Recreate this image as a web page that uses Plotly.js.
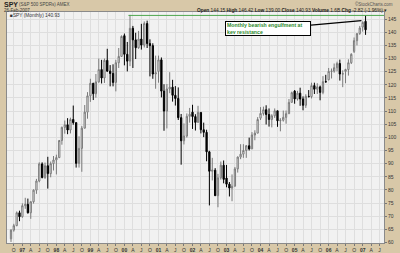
<!DOCTYPE html>
<html>
<head>
<meta charset="utf-8">
<script src="https://cdn.plot.ly/plotly-3.0.1.min.js"></script>
<style>html,body{margin:0;padding:0;background:#d8c8a8;}#chart{width:400px;height:253px;}</style>
</head>
<body>
<div id="chart"></div>
<script>
// Monthly bars, Sep 1996 – Feb 2007
const dates = [
 "1996-09-01","1996-10-01","1996-11-01","1996-12-01",
 "1997-01-01","1997-02-01","1997-03-01","1997-04-01","1997-05-01","1997-06-01","1997-07-01","1997-08-01","1997-09-01","1997-10-01","1997-11-01","1997-12-01",
 "1998-01-01","1998-02-01","1998-03-01","1998-04-01","1998-05-01","1998-06-01","1998-07-01","1998-08-01","1998-09-01","1998-10-01","1998-11-01","1998-12-01",
 "1999-01-01","1999-02-01","1999-03-01","1999-04-01","1999-05-01","1999-06-01","1999-07-01","1999-08-01","1999-09-01","1999-10-01","1999-11-01","1999-12-01",
 "2000-01-01","2000-02-01","2000-03-01","2000-04-01","2000-05-01","2000-06-01","2000-07-01","2000-08-01","2000-09-01","2000-10-01","2000-11-01","2000-12-01",
 "2001-01-01","2001-02-01","2001-03-01","2001-04-01","2001-05-01","2001-06-01","2001-07-01","2001-08-01","2001-09-01","2001-10-01","2001-11-01","2001-12-01",
 "2002-01-01","2002-02-01","2002-03-01","2002-04-01","2002-05-01","2002-06-01","2002-07-01","2002-08-01","2002-09-01","2002-10-01","2002-11-01","2002-12-01",
 "2003-01-01","2003-02-01","2003-03-01","2003-04-01","2003-05-01","2003-06-01","2003-07-01","2003-08-01","2003-09-01","2003-10-01","2003-11-01","2003-12-01",
 "2004-01-01","2004-02-01","2004-03-01","2004-04-01","2004-05-01","2004-06-01","2004-07-01","2004-08-01","2004-09-01","2004-10-01","2004-11-01","2004-12-01",
 "2005-01-01","2005-02-01","2005-03-01","2005-04-01","2005-05-01","2005-06-01","2005-07-01","2005-08-01","2005-09-01","2005-10-01","2005-11-01","2005-12-01",
 "2006-01-01","2006-02-01","2006-03-01","2006-04-01","2006-05-01","2006-06-01","2006-07-01","2006-08-01","2006-09-01","2006-10-01","2006-11-01","2006-12-01",
 "2007-01-01","2007-02-01"
];
const open = [
 61.4,64.7,66.4,71.3,
 69.8,74.0,74.5,71.3,75.5,79.9,83.4,89.9,84.7,89.2,86.2,90.0,
 91.4,92.3,98.8,103.8,104.8,102.8,106.8,105.6,90.1,95.8,103.5,109.6,
 115.8,120.6,116.6,121.1,125.8,122.6,129.3,125.2,124.3,120.9,128.4,130.8,
 138.7,131.6,129.0,141.5,137.1,134.1,137.4,135.1,143.3,135.7,134.9,124.1,
 125.1,129.5,117.6,110.0,118.4,119.1,116.0,114.8,107.5,98.7,100.5,108.0,
 109.6,107.9,105.7,109.5,102.9,101.9,94.5,87.1,87.5,77.8,84.6,89.4,
 84.5,82.2,80.7,81.4,88.0,92.5,93.6,95.0,96.8,95.6,100.9,101.6,
 107.3,109.1,110.5,108.7,106.8,108.2,110.1,106.3,106.5,107.6,109.0,113.3,
 117.6,114.6,116.8,114.6,112.2,115.6,115.5,119.7,118.3,119.2,117.1,121.2,
 121.9,125.1,125.2,126.5,128.1,124.1,125.1,125.8,128.4,132.7,136.8,139.5,
 141.96,144.15
];
const high = [
 65.0,67.1,71.8,72.1,
 74.9,77.0,76.7,75.7,80.2,84.2,90.5,90.5,90.4,92.6,90.8,92.9,
 93.4,99.0,104.1,106.4,107.3,107.5,112.1,105.7,100.4,104.3,112.3,117.2,
 122.3,120.7,124.1,130.0,129.5,130.0,133.7,127.5,127.8,129.5,134.0,138.8,
 139.5,136.3,146.6,142.4,139.8,140.5,143.2,144.1,144.4,137.3,135.8,131.1,
 131.1,130.4,120.2,120.3,124.8,121.9,119.5,119.0,108.9,105.3,109.1,111.2,
 112.4,108.8,112.0,109.5,105.6,102.9,94.9,92.2,88.3,86.1,90.8,91.2,
 89.5,83.0,85.9,88.7,92.7,97.4,97.4,97.1,99.9,102.0,102.7,107.7,
 111.5,111.7,112.2,111.0,108.8,111.0,110.1,107.3,110.2,110.2,114.6,117.4,
 118.0,117.7,118.9,115.6,116.4,118.0,120.8,120.8,120.6,119.7,123.3,123.8,
 126.4,126.2,128.1,128.8,129.6,125.5,126.1,129.7,132.0,138.0,139.6,142.4,
 144.13,146.42
];
const low = [
 60.2,64.1,66.2,68.1,
 69.4,72.8,71.0,69.0,74.8,78.5,82.9,84.4,84.2,80.5,84.8,87.4,
 85.9,92.1,97.2,101.4,101.2,101.5,104.8,88.5,88.5,86.9,103.4,107.1,
 113.5,114.2,115.1,120.8,120.5,120.7,124.9,119.4,119.4,117.5,126.4,130.6,
 127.4,125.1,127.1,126.4,129.8,133.7,133.4,134.2,134.0,123.2,122.3,118.5,
 120.8,115.2,102.5,103.4,116.8,113.6,112.1,106.6,89.6,97.3,99.9,105.6,
 103.2,102.6,105.6,101.5,100.1,90.9,74.1,83.6,77.8,73.4,83.9,82.5,
 81.0,77.5,75.7,81.3,86.6,91.7,92.2,92.2,95.0,95.6,98.9,101.6,
 106.6,108.3,104.9,104.1,103.8,107.4,104.0,102.3,106.0,105.2,109.0,113.3,
 112.8,114.0,112.0,110.3,111.2,115.2,114.8,116.5,116.5,114.1,116.4,120.9,
 121.7,122.4,124.6,125.1,121.6,119.1,120.6,123.5,127.9,132.1,135.0,139.0,
 140.25,139.00
];
const close = [
 64.7,66.4,71.3,69.8,
 74.0,74.5,71.3,75.5,79.9,83.4,89.9,84.7,89.2,86.2,90.0,91.4,
 92.3,98.8,103.8,104.8,102.8,106.8,105.6,90.1,95.8,103.5,109.6,115.8,
 120.6,116.6,121.1,125.8,122.6,129.3,125.2,124.3,120.9,128.4,130.8,138.4,
 131.6,129.0,141.5,137.1,134.1,137.4,135.1,143.3,135.7,134.9,124.1,124.6,
 129.5,117.6,110.0,118.4,119.1,116.0,114.8,107.5,98.7,100.5,108.0,108.8,
 107.9,105.7,109.5,102.9,101.9,94.5,87.1,87.5,77.8,84.6,89.4,84.0,
 82.2,80.7,81.4,88.0,92.5,93.6,95.0,96.8,95.6,100.9,101.6,106.8,
 109.1,110.5,108.7,106.8,108.2,110.1,106.3,106.5,107.6,109.0,113.3,117.0,
 114.6,116.8,114.6,112.2,115.6,115.5,119.7,118.3,119.2,117.1,121.2,121.1,
 125.1,125.2,126.5,128.1,124.1,124.2,125.8,128.4,131.6,136.8,139.5,141.6,
 143.75,140.93
];
const tickDates = [
 "1996-10-01","1997-01-01","1997-04-01","1997-07-01","1997-10-01","1998-01-01","1998-04-01","1998-07-01","1998-10-01",
 "1999-01-01","1999-04-01","1999-07-01","1999-10-01","2000-01-01","2000-04-01","2000-07-01","2000-10-01",
 "2001-01-01","2001-04-01","2001-07-01","2001-10-01","2002-01-01","2002-04-01","2002-07-01","2002-10-01",
 "2003-01-01","2003-04-01","2003-07-01","2003-10-01","2004-01-01","2004-04-01","2004-07-01","2004-10-01",
 "2005-01-01","2005-04-01","2005-07-01","2005-10-01","2006-01-01","2006-04-01","2006-07-01","2006-10-01",
 "2007-01-01","2007-04-01","2007-07-01"
];
const tickLabels = [
 "O","<b>97</b>","A","J","O","<b>98</b>","A","J","O",
 "<b>99</b>","A","J","O","<b>00</b>","A","J","O",
 "<b>01</b>","A","J","O","<b>02</b>","A","J","O",
 "<b>03</b>","A","J","O","<b>04</b>","A","J","O",
 "<b>05</b>","A","J","O","<b>06</b>","A","J","O",
 "<b>07</b>","A","J"
];
const resistanceLevel = 146.4;
const resistanceStart = "2000-02-13";
const noteText = "Monthly bearish engulfment at<br>key resistance";

const FONT = "Liberation Sans, Arial, sans-serif";

const trace = {
  type: "candlestick",
  x: dates, open: open, high: high, low: low, close: close,
  increasing: {line: {color: "#7a7a7a", width: 1}, fillcolor: "#ffffff"},
  decreasing: {line: {color: "#000000", width: 1}, fillcolor: "#000000"},
  whiskerwidth: 0,
  hoverinfo: "skip",
  showlegend: false
};

const px = (p) => (p - 7) / 377;
const py = (p) => (243 - p) / 231;

const layout = {
  width: 400, height: 253,
  margin: {l: 7, r: 16, t: 12, b: 10, pad: 0},
  paper_bgcolor: "#d8c8a8",
  plot_bgcolor: "#f1f1f1",
  font: {family: FONT, size: 5, color: "#333"},
  showlegend: false,
  xaxis: {
    type: "date",
    range: ["1996-07-20", "2007-08-18"],
    tickmode: "array", tickvals: tickDates, ticktext: tickLabels,
    showgrid: true, gridcolor: "#dedede", gridwidth: 1,
    ticks: "outside", ticklen: 2, tickcolor: "#777",
    tickfont: {size: 5, color: "#333", family: FONT},
    showline: true, linecolor: "#8a8a8a", linewidth: 1, mirror: true,
    rangeslider: {visible: false},
    zeroline: false, fixedrange: true
  },
  yaxis: {
    side: "right",
    range: [59.8, 147.7],
    tick0: 0, dtick: 5,
    showgrid: true, gridcolor: "#dedede", gridwidth: 1,
    ticks: "outside", ticklen: 2, tickcolor: "#777",
    tickfont: {size: 5, color: "#333", family: FONT},
    showline: true, linecolor: "#8a8a8a", linewidth: 1, mirror: true,
    zeroline: false, fixedrange: true
  },
  shapes: [{
    type: "line", xref: "x", yref: "y",
    x0: resistanceStart, x1: "2007-08-18", y0: resistanceLevel, y1: resistanceLevel,
    line: {color: "#4ea64e", width: 1}
  }],
  annotations: [
    {xref: "paper", yref: "paper", x: px(2), y: py(4.5), xanchor: "left", yanchor: "middle",
     text: "<b>SPY</b>", showarrow: false, font: {size: 7, color: "#222", family: FONT}},
    {xref: "paper", yref: "paper", x: px(17), y: py(4.8), xanchor: "left", yanchor: "middle",
     text: "(S&amp;P 500 SPDRs) AMEX", showarrow: false, font: {size: 4.5, color: "#444", family: FONT}},
    {xref: "paper", yref: "paper", x: px(2), y: py(10.3), xanchor: "left", yanchor: "middle",
     text: "26-Feb-2007", showarrow: false, font: {size: 4.5, color: "#333", family: FONT}},
    {xref: "paper", yref: "paper", x: px(395), y: py(4.2), xanchor: "right", yanchor: "middle",
     text: "©StockCharts.com", showarrow: false, font: {size: 4.5, color: "#555", family: FONT}},
    {xref: "paper", yref: "paper", x: px(389), y: py(10.5), xanchor: "right", yanchor: "middle",
     text: "<b>Open</b> 144.15 <b>High</b> 146.42 <b>Low</b> 139.00 <b>Close</b> 140.93 <b>Volume</b> 1.6B <b>Chg</b> -2.82 (-1.96%) ▾",
     showarrow: false, font: {size: 4.8, color: "#222", family: FONT}},
    {xref: "paper", yref: "paper", x: px(8), y: py(16), xanchor: "left", yanchor: "middle",
     text: "■SPY (Monthly) 140.93", showarrow: false, font: {size: 4.8, color: "#333", family: FONT}},
    {xref: "x", yref: "y", x: "2006-12-19", y: 144.4,
     ax: -93, ay: 8.3, axref: "pixel", ayref: "pixel",
     showarrow: true, arrowhead: 0, arrowwidth: 1.2, arrowcolor: "#000", standoff: 0,
     text: "<b>" + noteText + "</b>", align: "left",
     width: 82, height: 11,
     bgcolor: "#ffffff", bordercolor: "#000", borderwidth: 1, borderpad: 1,
     font: {size: 5.2, color: "#2d8a2d", family: FONT}}
  ]
};

Plotly.newPlot("chart", [trace], layout, {staticPlot: true, displayModeBar: false});
</script>
</body>
</html>
